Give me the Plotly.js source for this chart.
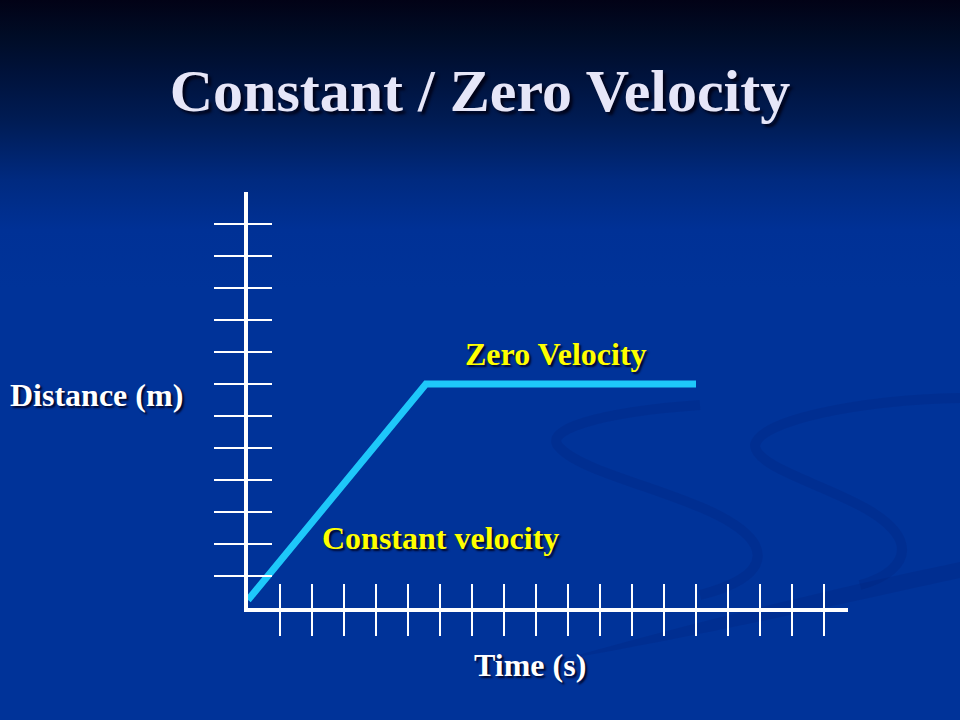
<!DOCTYPE html>
<html>
<head>
<meta charset="utf-8">
<script src="https://cdn.plot.ly/plotly-3.0.1.min.js"></script>
<style>
html,body{margin:0;padding:0;}
body{width:960px;height:720px;overflow:hidden;
background:linear-gradient(to bottom,#020216 0%,#000c26 5%,#00123a 10%,#001c55 17%,#002a80 25%,#003196 32%,#003399 40%,#003399 100%);}
#chart{width:960px;height:720px;}
</style>
</head>
<body>
<div id="chart"></div>
<script>
// Data (time in tick units, distance in tick units)
const timeVals = [0, 5.56, 14];
const distVals = [0.25, 7, 7];
const xTickVals = [1,2,3,4,5,6,7,8,9,10,11,12,13,14,15,16,17,18];
const yTickVals = [1,2,3,4,5,6,7,8,9,10,11,12];
const titleText = "Constant / Zero Velocity";
const labelZero = "Zero Velocity";
const labelConst = "Constant velocity";
const xLabel = "Time (s)";
const yLabel = "Distance (m)";

// pixel -> paper helpers (plot area 248..848 x 192..608)
const L = 248, R = 112, T = 192, B = 112, W = 600, H = 416;
const px = p => (p - L) / W;
const py = p => (720 - B - p) / H;

const serif = "Liberation Serif, Times New Roman, serif";
const shadow = "2px 2px 2px rgba(0,0,30,0.9)";

const traces = [
  {x: timeVals, y: distVals, mode: 'lines', line: {color: '#1ec8fa', width: 7},
   hoverinfo: 'skip', showlegend: false},
  {x: timeVals, y: distVals, xaxis: 'x2', yaxis: 'y2', mode: 'lines',
   line: {width: 0, color: 'rgba(0,0,0,0)'}, hoverinfo: 'skip', showlegend: false}
];

const axBase = {showgrid: false, zeroline: false, showticklabels: false, fixedrange: true};

const swirl = 'rgba(0,30,110,0.18)';
const layout = {
  width: 960, height: 720,
  margin: {l: L, r: R, t: T, b: B, pad: 0},
  paper_bgcolor: 'rgba(0,0,0,0)', plot_bgcolor: 'rgba(0,0,0,0)',
  showlegend: false,
  title: {text: titleText, x: 0.5, xref: 'container', xanchor: 'center',
          y: 1 - 90/720, yref: 'container', yanchor: 'middle',
          font: {family: serif, size: 60, color: '#e6e6f8', weight: 'bold', shadow: '3px 3px 3px rgba(0,0,20,0.9)'}},
  xaxis: Object.assign({}, axBase, {range: [0, 18.75], showline: true, linecolor: '#ffffff', linewidth: 4,
          tickmode: 'array', tickvals: xTickVals, ticks: 'outside', ticklen: 24, tickwidth: 1.5, tickcolor: '#ffffff'}),
  yaxis: Object.assign({}, axBase, {range: [0, 13], showline: true, linecolor: '#ffffff', linewidth: 4,
          tickmode: 'array', tickvals: yTickVals, ticks: 'outside', ticklen: 30, tickwidth: 1.5, tickcolor: '#ffffff'}),
  xaxis2: Object.assign({}, axBase, {range: [0, 18.75], overlaying: 'x', side: 'bottom', showline: false,
          tickmode: 'array', tickvals: xTickVals, ticks: 'inside', ticklen: 24, tickwidth: 1.5, tickcolor: '#ffffff'}),
  yaxis2: Object.assign({}, axBase, {range: [0, 13], overlaying: 'y', side: 'left', showline: false,
          tickmode: 'array', tickvals: yTickVals, ticks: 'inside', ticklen: 24, tickwidth: 1.5, tickcolor: '#ffffff'}),
  shapes: [
    {type: 'path', xref: 'paper', yref: 'paper', layer: 'below',
     path: `M ${px(700)} ${py(405)} C ${px(600)} ${py(412)}, ${px(540)} ${py(430)}, ${px(560)} ${py(448)} C ${px(590)} ${py(480)}, ${px(730)} ${py(500)}, ${px(755)} ${py(545)} C ${px(770)} ${py(575)}, ${px(720)} ${py(590)}, ${px(700)} ${py(595)}`,
     line: {color: swirl, width: 10}},
    {type: 'path', xref: 'paper', yref: 'paper', layer: 'below',
     path: `M ${px(960)} ${py(398)} C ${px(860)} ${py(400)}, ${px(760)} ${py(420)}, ${px(755)} ${py(445)} C ${px(755)} ${py(475)}, ${px(880)} ${py(495)}, ${px(900)} ${py(540)} C ${px(910)} ${py(565)}, ${px(880)} ${py(580)}, ${px(860)} ${py(585)}`,
     line: {color: swirl, width: 10}},
    {type: 'path', xref: 'paper', yref: 'paper', layer: 'below',
     path: `M ${px(560)} ${py(660)} C ${px(700)} ${py(620)}, ${px(850)} ${py(585)}, ${px(960)} ${py(562)} L ${px(960)} ${py(578)} C ${px(850)} ${py(602)}, ${px(700)} ${py(636)}, ${px(560)} ${py(660)} Z`,
     line: {width: 0}, fillcolor: swirl}
  ],
  annotations: [
    {text: labelZero, xref: 'paper', yref: 'paper', x: px(556), y: py(354), showarrow: false,
     xanchor: 'center', yanchor: 'middle',
     font: {family: serif, size: 32, color: '#ffff00', weight: 'bold', shadow: shadow}},
    {text: labelConst, xref: 'paper', yref: 'paper', x: px(440), y: py(538), showarrow: false,
     xanchor: 'center', yanchor: 'middle',
     font: {family: serif, size: 32, color: '#ffff00', weight: 'bold', shadow: shadow}},
    {text: yLabel, xref: 'paper', yref: 'paper', x: px(96), y: py(395), showarrow: false,
     xanchor: 'center', yanchor: 'middle',
     font: {family: serif, size: 32, color: '#ffffff', weight: 'bold', shadow: shadow}},
    {text: xLabel, xref: 'paper', yref: 'paper', x: px(530), y: py(665), showarrow: false,
     xanchor: 'center', yanchor: 'middle',
     font: {family: serif, size: 32, color: '#ffffff', weight: 'bold', shadow: shadow}}
  ]
};

Plotly.newPlot('chart', traces, layout, {displayModeBar: false, staticPlot: true});
</script>
</body>
</html>
